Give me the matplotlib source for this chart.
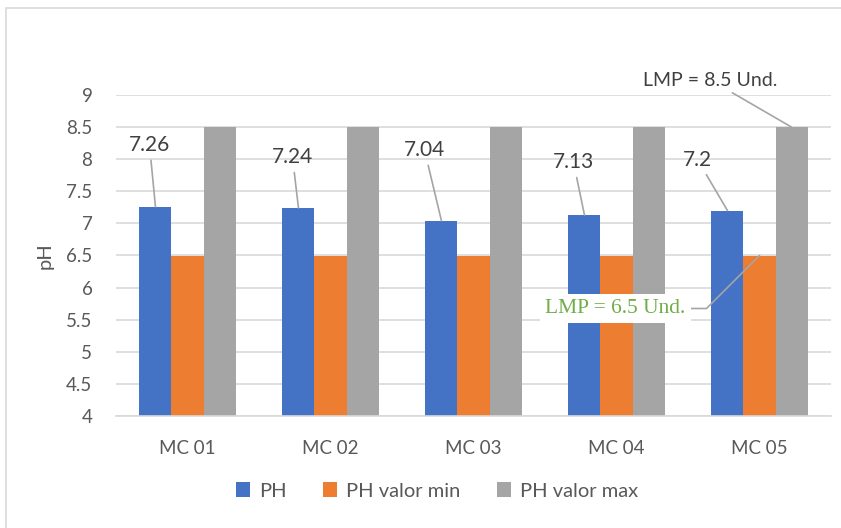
import matplotlib
matplotlib.use("Agg")
import matplotlib.pyplot as plt
from matplotlib.patches import Rectangle
import numpy as np

categories = ["MC 01", "MC 02", "MC 03", "MC 04", "MC 05"]
ph_values = [7.26, 7.24, 7.04, 7.13, 7.2]
ph_min = [6.5, 6.5, 6.5, 6.5, 6.5]
ph_max = [8.5, 8.5, 8.5, 8.5, 8.5]
series_names = ["PH", "PH valor min", "PH valor max"]
yticks = [4, 4.5, 5, 5.5, 6, 6.5, 7, 7.5, 8, 8.5, 9]
ytick_labels = ["4", "4.5", "5", "5.5", "6", "6.5", "7", "7.5", "8", "8.5", "9"]

# label offsets (pixels) from each PH bar top
ph_label_offsets = [(-6, 62), (-6, 51), (-17, 71), (-11, 53), (-30, 51)]

plt.rcParams["font.family"] = ["Lato", "DejaVu Sans"]

W, H = 841, 528
fig = plt.figure(figsize=(W / 100, H / 100), dpi=100)
fig.patches.append(Rectangle((6 / W, -0.1), 1.0, 1 - 8 / H + 0.1,
                             transform=fig.transFigure, fill=False,
                             edgecolor="#D9D9D9", linewidth=1.2))

ax = fig.add_axes([116 / W, 1 - 416 / H, (831 - 116) / W, (416 - 95) / H])

colors = ["#4472C4", "#ED7D31", "#A5A5A5"]
x = np.arange(len(categories))
w = 0.224
series = [ph_values, ph_min, ph_max]
bars = []
for i, (vals, c, name) in enumerate(zip(series, colors, series_names)):
    b = ax.bar(x + (i - 1) * w, np.array(vals) - 4, width=w, bottom=4,
               color=c, label=name, zorder=2)
    bars.append(b)

ax.set_ylim(4, 9)
ax.set_xlim(-0.5, len(categories) - 0.5)
ax.set_yticks(yticks)
ax.set_yticklabels(ytick_labels)
ax.set_xticks(x)
ax.set_xticklabels(categories)
ax.grid(axis="y", color="#D9D9D9", linewidth=1.2, zorder=0)
ax.set_axisbelow(True)
for s in ["top", "right", "left"]:
    ax.spines[s].set_visible(False)
ax.spines["bottom"].set_color("#D9D9D9")
ax.spines["bottom"].set_linewidth(1.2)
ax.tick_params(axis="both", length=0, colors="#595959", labelsize=13.5)
ax.tick_params(axis="y", pad=17)
ax.tick_params(axis="x", pad=17)
ax.set_ylabel("pH", fontsize=14.5, color="#595959", labelpad=9)

leader = dict(arrowstyle="-", color="#A5A5A5", linewidth=1.2,
              shrinkA=2, shrinkB=0)

for xi, v, off in zip(x - w, ph_values, ph_label_offsets):
    ax.annotate(f"{v:g}", xy=(xi, v), xytext=off, textcoords="offset pixels",
                ha="center", va="center", fontsize=15, color="#404040",
                arrowprops=leader, zorder=5)

ax.annotate("LMP = 8.5 Und.", xy=(x[-1] + w, ph_max[-1]), xytext=(-81, 47),
            textcoords="offset pixels", ha="center", va="center",
            fontsize=14, color="#404040", arrowprops=leader, zorder=5)

ax.annotate("LMP = 6.5 Und.", xy=(x[-1], ph_min[-1]), xytext=(-144, -53),
            textcoords="offset pixels", ha="center", va="center",
            fontsize=15.5, color="#70AD47",
            family=["Liberation Serif", "DejaVu Serif"],
            bbox=dict(boxstyle="square,pad=0.25", fc="white", ec="none"),
            arrowprops=dict(arrowstyle="-", color="#A5A5A5", linewidth=1.2,
                            shrinkA=0, shrinkB=0,
                            connectionstyle="angle,angleA=0,angleB=45,rad=0"),
            zorder=5)

leg = fig.legend(handles=bars, labels=series_names, loc="center",
                 bbox_to_anchor=(437 / W, 1 - 491 / H), ncol=3, frameon=False,
                 fontsize=14.5, handlelength=0.7, handleheight=0.7,
                 handletextpad=0.45, columnspacing=1.8)
for t in leg.get_texts():
    t.set_color("#595959")

fig.savefig("out.png", dpi=100)
